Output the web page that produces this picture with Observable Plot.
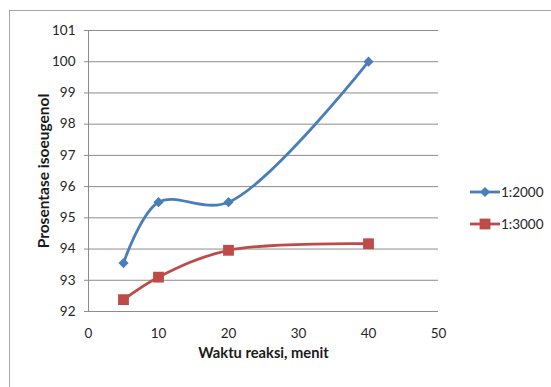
<!DOCTYPE html>
<html>
<head>
<meta charset="utf-8">
<script src="https://cdn.jsdelivr.net/npm/d3@7"></script>
<script src="https://cdn.jsdelivr.net/npm/@observablehq/plot@0.6"></script>
<style>
  html, body { margin: 0; padding: 0; background: #fff; overflow: hidden; }
  #wrap { position: relative; width: 551px; height: 387px; font-family: Lato, "Open Sans", sans-serif; }
  #border { position: absolute; left: 9px; top: 10px; width: 620px; height: 420px; border: 1px solid #a6a6a6; }
  #chart { position: absolute; left: 0; top: 0; }
  #legend { position: absolute; left: 470px; top: 176px; font-size: 13.5px; color: #262626; }
  .item { display: flex; align-items: center; height: 32px; }
  .item svg { display: block; margin-right: 1px; }
</style>
</head>
<body>
<div id="wrap">
  <div id="border"></div>
  <div id="chart"></div>
  <div id="legend"></div>
</div>
<script>
// Reaction time (minutes) and isoeugenol percentage for two ratios
const times = [5, 10, 20, 40];
const pct2000 = [93.55, 95.5, 95.5, 100];
const pct3000 = [92.38, 93.1, 93.96, 94.17];
const seriesNames = ["1:2000", "1:3000"];
const seriesColors = ["#4a7ebb", "#be4b48"];
const seriesSymbols = ["diamond2", "square"];
const xTicks = [0, 10, 20, 30, 40, 50];
const yTicks = [92, 93, 94, 95, 96, 97, 98, 99, 100, 101];

const rows = [
  ...times.map((t, i) => ({time: t, pct: pct2000[i], series: seriesNames[0]})),
  ...times.map((t, i) => ({time: t, pct: pct3000[i], series: seriesNames[1]}))
];

const color = {domain: seriesNames, range: seriesColors};

const chart = Plot.plot({
  width: 551,
  height: 387,
  marginLeft: 88,
  marginRight: 113,
  marginTop: 30,
  marginBottom: 76,
  style: {fontFamily: "Lato, 'Open Sans', sans-serif", fontSize: "13.5px", color: "#262626", background: "transparent"},
  x: {domain: [0, 50]},
  y: {domain: [92, 101]},
  color,
  symbol: {domain: seriesNames, range: seriesSymbols},
  marks: [
    Plot.gridY(yTicks, {stroke: "#8c8c8c", strokeOpacity: 1, x1: 0, x2: 50}),
    Plot.ruleX([0], {stroke: "#8c8c8c"}),
    Plot.axisY(yTicks, {
      tickSize: 4, tickPadding: 9, stroke: "#8c8c8c", fill: "#262626",
      label: "Prosentase isoeugenol", labelAnchor: "center", labelArrow: "none", labelOffset: 51
    }),
    Plot.axisX(xTicks, {
      tickSize: 0, tickPadding: 17, fill: "#262626",
      label: "Waktu reaksi, menit", labelAnchor: "center", labelArrow: "none", labelOffset: 46
    }),
    Plot.line(rows, {x: "time", y: "pct", z: "series", stroke: "series", strokeWidth: 2.8, curve: "catmull-rom"}),
    Plot.dot(rows.filter(d => d.series === seriesNames[0]), {x: "time", y: "pct", symbol: "series", fill: "series", r: 4.6}),
    Plot.dot(rows.filter(d => d.series === seriesNames[1]), {x: "time", y: "pct", symbol: "series", fill: "series", r: 6.1})
  ]
});

// Axis titles in bold, slightly larger than the tick labels
chart.querySelectorAll("[aria-label='y-axis label'] text")
  .forEach(t => { t.style.fontWeight = "bold"; t.style.fontSize = "15.5px"; t.setAttribute("fill", "#1a1a1a"); });
chart.querySelectorAll("[aria-label='x-axis label'] text")
  .forEach(t => { t.style.fontWeight = "bold"; t.style.fontSize = "14.7px"; t.setAttribute("fill", "#1a1a1a"); });

document.getElementById("chart").append(chart);

// Legend: line with marker and series name
const legend = d3.select("#legend");
seriesNames.forEach((name, i) => {
  const item = legend.append("div").attr("class", "item");
  const svg = item.append("svg").attr("width", 30).attr("height", 14);
  svg.append("line").attr("x1", 0).attr("x2", 30).attr("y1", 7).attr("y2", 7)
    .attr("stroke", seriesColors[i]).attr("stroke-width", 2.8);
  const sym = seriesSymbols[i] === "square" ? d3.symbolSquare : d3.symbolDiamond2;
  const size = seriesSymbols[i] === "square" ? Math.PI * 6.1 * 6.1 : Math.PI * 4.6 * 4.6;
  svg.append("path").attr("d", d3.symbol(sym, size)()).attr("transform", "translate(15,7)")
    .attr("fill", seriesColors[i]);
  item.append("span").text(name);
});
</script>
</body>
</html>
